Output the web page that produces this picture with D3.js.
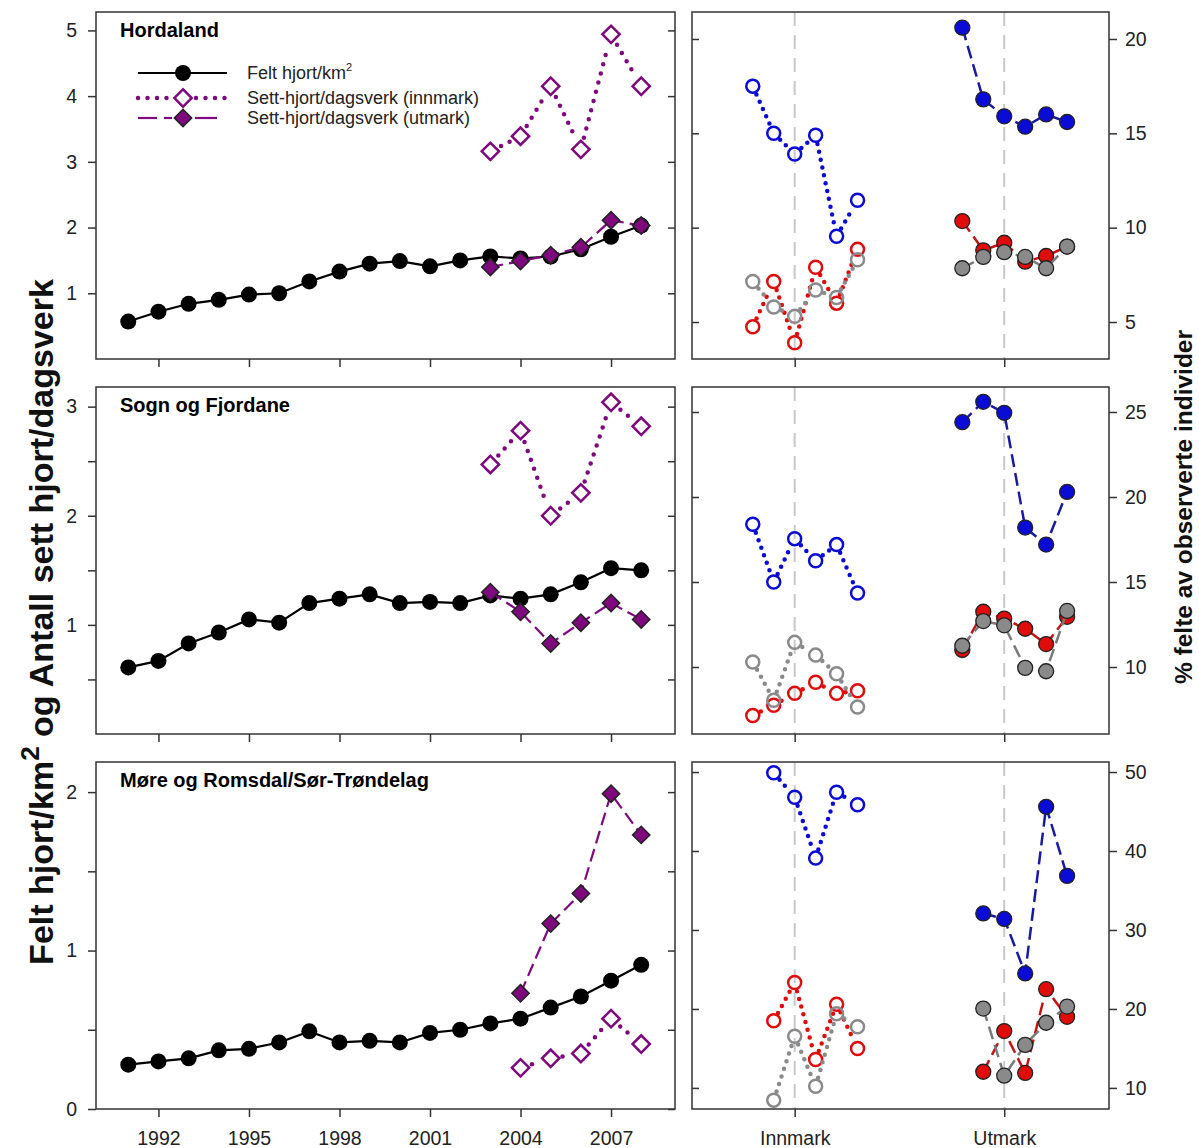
<!DOCTYPE html>
<html>
<head>
<meta charset="utf-8">
<script src="https://cdn.jsdelivr.net/npm/d3@7/dist/d3.min.js"></script>
<style>
body { margin: 0; background: #fff; }
text { font-family: "Liberation Sans", Arial, sans-serif; }
</style>
</head>
<body>
<div id="chart"></div>
<script>
// ---- data ----
var years = [1991, 1992, 1993, 1994, 1995, 1996, 1997, 1998, 1999, 2000, 2001, 2002, 2003, 2004, 2005, 2006, 2007, 2008];
var obsYears = [2003, 2004, 2005, 2006, 2007, 2008];
var regions = ["Hordaland", "Sogn og Fjordane", "Møre og Romsdal/Sør-Trøndelag"];
var areas = ["Innmark", "Utmark"];

// felt hjort per km2 (1991-2008)
var feltHordaland = [0.57, 0.72, 0.84, 0.90, 0.98, 1.00, 1.18, 1.33, 1.45, 1.49, 1.41, 1.50, 1.56, 1.53, 1.56, 1.67, 1.86, 2.03];
var feltSogn = [0.61, 0.67, 0.83, 0.93, 1.05, 1.02, 1.20, 1.24, 1.28, 1.20, 1.21, 1.20, 1.27, 1.24, 1.28, 1.39, 1.52, 1.50];
var feltMore = [0.28, 0.30, 0.32, 0.37, 0.38, 0.42, 0.49, 0.42, 0.43, 0.42, 0.48, 0.50, 0.54, 0.57, 0.64, 0.71, 0.81, 0.91];

// sett hjort per dagsverk (2003-2008)
var innHordaland = [3.16, 3.39, 4.15, 3.19, 4.94, 4.15];
var utHordaland = [1.40, 1.49, 1.58, 1.70, 2.11, 2.03];
var innSogn = [2.47, 2.78, 2.00, 2.21, 3.04, 2.82];
var utSogn = [1.30, 1.12, 0.83, 1.02, 1.20, 1.05];
var innMore = [null, 0.26, 0.32, 0.35, 0.57, 0.41];
var utMore = [null, 0.73, 1.17, 1.36, 1.99, 1.73];

// % felte av observerte individer (2003-2008), blue / red / grey
var innBlueHord = [17.5, 15.0, 13.9, 14.9, 9.55, 11.45];
var innRedHord = [4.75, 7.15, 3.9, 7.9, 6.0, 8.85];
var innGreyHord = [7.15, 5.8, 5.3, 6.7, 6.3, 8.3];
var utBlueHord = [20.6, 16.8, 15.9, 15.35, 16.0, 15.6];
var utRedHord = [10.35, 8.8, 9.2, 8.2, 8.5, 9.0];
var utGreyHord = [7.85, 8.45, 8.7, 8.45, 7.85, 9.0];

var innBlueSogn = [18.4, 15.0, 17.55, 16.25, 17.2, 14.35];
var innRedSogn = [7.15, 7.75, 8.45, 9.1, 8.45, 8.6];
var innGreySogn = [10.3, 8.05, 11.45, 10.7, 9.6, 7.65];
var utBlueSogn = [24.4, 25.6, 24.95, 18.2, 17.2, 20.3];
var utRedSogn = [11.0, 13.25, 12.85, 12.25, 11.35, 12.95];
var utGreySogn = [11.25, 12.7, 12.45, 9.95, 9.75, 13.3];

var innBlueMore = [null, 49.9, 46.8, 39.1, 47.45, 45.85];
var innRedMore = [null, 18.5, 23.35, 13.6, 20.6, 15.0];
var innGreyMore = [null, 8.45, 16.55, 10.2, 19.4, 17.75];
var utBlueMore = [null, 32.1, 31.4, 24.5, 45.6, 36.85];
var utRedMore = [null, 12.05, 17.2, 11.9, 22.5, 19.0];
var utGreyMore = [null, 20.05, 11.55, 15.45, 18.25, 20.3];

// axis ticks
var yearTicks = [1992, 1995, 1998, 2001, 2004, 2007];
var leftTicks = [[1, 2, 3, 4, 5], [0.5, 1, 1.5, 2, 2.5, 3], [0, 0.5, 1, 1.5, 2]];
var rightTicks = [[5, 10, 15, 20], [10, 15, 20, 25], [10, 20, 30, 40, 50]];

// ---- layout ----
var fullwidth = 1199;
var fullheight = 1148;
var panelTop = [12, 387, 762];
var panelH = 347;
var leftX = [96, 675];
var rightX = [692, 1109];
var leftDomains = [[0, 5.28], [0, 3.18], [0, 2.19]];
var rightDomains = [[3.04, 21.43], [6.06, 26.47], [7.33, 51.27]];

var purple = "#7d097d";
var cols = {blue: "#0b0bd6", red: "#e00b0b", grey: "#8a8a8a"};
var lineCols = {blue: "#1a1aa0", red: "#c01414", grey: "#7a7a7a"};

var svg = d3.select("#chart").append("svg")
    .attr("width", fullwidth)
    .attr("height", fullheight);

var xYear = d3.scaleLinear().domain([1989.93, 2009.12]).range(leftX);
var xArea = d3.scaleLinear().domain([0.51, 2.5]).range(rightX);

function xObs(area, year) {
    return xArea(area + (year - 2005) * 0.1);
}

// segments that stop short of the markers (like R type = "b")
function gapSegs(pts, gap) {
    var segs = [];
    for (var i = 0; i < pts.length - 1; i++) {
        var a = pts[i], b = pts[i + 1];
        var dx = b[0] - a[0], dy = b[1] - a[1];
        var len = Math.sqrt(dx * dx + dy * dy);
        if (len <= 2 * gap + 2) continue;
        var ux = dx / len, uy = dy / len;
        segs.push([[a[0] + ux * gap, a[1] + uy * gap], [b[0] - ux * gap, b[1] - uy * gap]]);
    }
    return segs;
}

function toPts(xs, vals, xf, yScale) {
    var pts = [];
    vals.forEach(function(v, i) {
        if (v !== null) pts.push([xf(xs[i]), yScale(v)]);
    });
    return pts;
}

var diamond = d3.symbol().type(d3.symbolSquare).size(150);

function styleAxis(g) {
    g.select(".domain").remove();
    g.selectAll("line").attr("stroke", "#333").attr("stroke-width", 1.5);
    g.selectAll("text").attr("fill", "#222").style("font-size", "19.5px");
}

function drawLeft(p, felt, inn, ut) {
    var top = panelTop[p], bottom = top + panelH;
    var y = d3.scaleLinear().domain(leftDomains[p]).range([bottom, top]);
    var g = svg.append("g");

    // axes
    g.append("g")
        .attr("transform", "translate(" + leftX[0] + ",0)")
        .call(d3.axisLeft(y).tickValues(leftTicks[p]).tickSize(8).tickPadding(11)
            .tickFormat(function(d) { return d % 1 === 0 ? d : ""; }))
        .call(styleAxis);
    g.append("g")
        .attr("transform", "translate(" + leftX[1] + ",0)")
        .call(d3.axisLeft(y).tickValues(leftTicks[p]).tickSize(7).tickFormat(""))
        .call(styleAxis);
    g.append("g")
        .attr("transform", "translate(0," + bottom + ")")
        .call(d3.axisBottom(xYear).tickValues(yearTicks).tickSize(8).tickPadding(14)
            .tickFormat(p === 2 ? d3.format("d") : ""))
        .call(styleAxis);

    g.append("rect")
        .attr("x", leftX[0]).attr("y", top)
        .attr("width", leftX[1] - leftX[0]).attr("height", panelH)
        .attr("fill", "none").attr("stroke", "#333").attr("stroke-width", 1.5);

    g.append("text")
        .attr("x", 120).attr("y", top + 25)
        .attr("font-weight", "bold").style("font-size", "20px")
        .text(regions[p]);

    // felt hjort (black)
    var feltPts = toPts(years, felt, xYear, y);
    g.append("path")
        .attr("d", d3.line()(feltPts))
        .attr("fill", "none").attr("stroke", "#000").attr("stroke-width", 2.2);
    g.selectAll("circle.felt").data(feltPts).enter().append("circle")
        .attr("class", "felt")
        .attr("cx", function(d) { return d[0]; })
        .attr("cy", function(d) { return d[1]; })
        .attr("r", 8).attr("fill", "#000");

    // utmark (filled diamonds, dashed)
    var utPts = toPts(obsYears, ut, xYear, y);
    g.append("path")
        .attr("d", d3.line()(utPts))
        .attr("fill", "none").attr("stroke", purple).attr("stroke-width", 2.2)
        .attr("stroke-dasharray", "13,6");
    g.selectAll("path.ut").data(utPts).enter().append("path")
        .attr("class", "ut")
        .attr("d", diamond)
        .attr("transform", function(d) { return "translate(" + d[0] + "," + d[1] + ") rotate(45)"; })
        .attr("fill", purple).attr("stroke", "#222").attr("stroke-width", 1.5);

    // innmark (open diamonds, dotted)
    var innPts = toPts(obsYears, inn, xYear, y);
    g.selectAll("line.inn").data(gapSegs(innPts, 12)).enter().append("line")
        .attr("class", "inn")
        .attr("x1", function(d) { return d[0][0]; }).attr("y1", function(d) { return d[0][1]; })
        .attr("x2", function(d) { return d[1][0]; }).attr("y2", function(d) { return d[1][1]; })
        .attr("stroke", purple).attr("stroke-width", 4.5)
        .attr("stroke-linecap", "round").attr("stroke-dasharray", "0,9.5");
    g.selectAll("path.inn").data(innPts).enter().append("path")
        .attr("class", "inn")
        .attr("d", diamond)
        .attr("transform", function(d) { return "translate(" + d[0] + "," + d[1] + ") rotate(45)"; })
        .attr("fill", "#fff").attr("stroke", purple).attr("stroke-width", 2.5);
}

function drawRight(p, series) {
    var top = panelTop[p], bottom = top + panelH;
    var y = d3.scaleLinear().domain(rightDomains[p]).range([bottom, top]);
    var g = svg.append("g");

    // dashed reference lines
    g.selectAll("line.ref").data([1, 2]).enter().append("line")
        .attr("class", "ref")
        .attr("x1", function(d) { return xArea(d); }).attr("x2", function(d) { return xArea(d); })
        .attr("y1", top).attr("y2", bottom)
        .attr("stroke", "#c8c8c8").attr("stroke-width", 2)
        .attr("stroke-dasharray", "14,9");

    g.append("g")
        .attr("transform", "translate(" + rightX[1] + ",0)")
        .call(d3.axisRight(y).tickValues(rightTicks[p]).tickSize(8).tickPadding(8))
        .call(styleAxis);
    g.append("g")
        .attr("transform", "translate(" + rightX[0] + ",0)")
        .call(d3.axisRight(y).tickValues(rightTicks[p]).tickSize(7).tickFormat(""))
        .call(styleAxis);
    g.append("g")
        .attr("transform", "translate(0," + bottom + ")")
        .call(d3.axisBottom(xArea).tickValues([1, 2]).tickSize(8).tickPadding(14)
            .tickFormat(function(d) { return p === 2 ? areas[d - 1] : ""; }))
        .call(styleAxis);

    g.append("rect")
        .attr("x", rightX[0]).attr("y", top)
        .attr("width", rightX[1] - rightX[0]).attr("height", panelH)
        .attr("fill", "none").attr("stroke", "#333").attr("stroke-width", 1.5);

    ["blue", "red", "grey"].forEach(function(c) {
        // innmark: open circles, dotted
        var innPts = toPts(obsYears, series["inn_" + c], function(yr) { return xObs(1, yr); }, y);
        g.selectAll("line.inn" + c).data(gapSegs(innPts, 9)).enter().append("line")
            .attr("class", "inn" + c)
            .attr("x1", function(d) { return d[0][0]; }).attr("y1", function(d) { return d[0][1]; })
            .attr("x2", function(d) { return d[1][0]; }).attr("y2", function(d) { return d[1][1]; })
            .attr("stroke", cols[c]).attr("stroke-width", 4.5)
            .attr("stroke-linecap", "round").attr("stroke-dasharray", "0,8");
        g.selectAll("circle.inn" + c).data(innPts).enter().append("circle")
            .attr("class", "inn" + c)
            .attr("cx", function(d) { return d[0]; })
            .attr("cy", function(d) { return d[1]; })
            .attr("r", 6.5).attr("fill", "none")
            .attr("stroke", cols[c]).attr("stroke-width", 2.5);

        // utmark: filled circles, dashed
        var utPts = toPts(obsYears, series["ut_" + c], function(yr) { return xObs(2, yr); }, y);
        g.append("path")
            .attr("d", d3.line()(utPts))
            .attr("fill", "none").attr("stroke", lineCols[c]).attr("stroke-width", 2.5)
            .attr("stroke-dasharray", "13,6");
        g.selectAll("circle.ut" + c).data(utPts).enter().append("circle")
            .attr("class", "ut" + c)
            .attr("cx", function(d) { return d[0]; })
            .attr("cy", function(d) { return d[1]; })
            .attr("r", 7.5).attr("fill", cols[c])
            .attr("stroke", "#222").attr("stroke-width", 1.3);
    });
}

drawLeft(0, feltHordaland, innHordaland, utHordaland);
drawLeft(1, feltSogn, innSogn, utSogn);
drawLeft(2, feltMore, innMore, utMore);

drawRight(0, {inn_blue: innBlueHord, inn_red: innRedHord, inn_grey: innGreyHord,
              ut_blue: utBlueHord, ut_red: utRedHord, ut_grey: utGreyHord});
drawRight(1, {inn_blue: innBlueSogn, inn_red: innRedSogn, inn_grey: innGreySogn,
              ut_blue: utBlueSogn, ut_red: utRedSogn, ut_grey: utGreySogn});
drawRight(2, {inn_blue: innBlueMore, inn_red: innRedMore, inn_grey: innGreyMore,
              ut_blue: utBlueMore, ut_red: utRedMore, ut_grey: utGreyMore});

// legend (Hordaland panel)
var leg = svg.append("g");
var legY = [73, 98, 118];
leg.append("line").attr("x1", 138).attr("x2", 227).attr("y1", legY[0]).attr("y2", legY[0])
    .attr("stroke", "#000").attr("stroke-width", 2.2);
leg.append("circle").attr("cx", 183).attr("cy", legY[0]).attr("r", 8).attr("fill", "#000");

[[138, 170], [196, 227]].forEach(function(s) {
    leg.append("line").attr("x1", s[0]).attr("x2", s[1]).attr("y1", legY[1]).attr("y2", legY[1])
        .attr("stroke", purple).attr("stroke-width", 4.5)
        .attr("stroke-linecap", "round").attr("stroke-dasharray", "0,9.5");
});
leg.append("path").attr("d", diamond)
    .attr("transform", "translate(183," + legY[1] + ") rotate(45)")
    .attr("fill", "#fff").attr("stroke", purple).attr("stroke-width", 2.5);

[[138, 157], [164, 172], [195, 217]].forEach(function(s) {
    leg.append("line").attr("x1", s[0]).attr("x2", s[1]).attr("y1", legY[2]).attr("y2", legY[2])
        .attr("stroke", purple).attr("stroke-width", 2.2);
});
leg.append("path").attr("d", diamond)
    .attr("transform", "translate(183," + legY[2] + ") rotate(45)")
    .attr("fill", purple).attr("stroke", "#222").attr("stroke-width", 1.5);

var legText = leg.append("text").attr("x", 247).attr("y", legY[0] + 6)
    .attr("fill", "#222").style("font-size", "18px");
legText.append("tspan").text("Felt hjort/km");
legText.append("tspan").attr("dy", -8).style("font-size", "11px").text("2");
leg.append("text").attr("x", 247).attr("y", legY[1] + 6)
    .attr("fill", "#222").style("font-size", "18px").text("Sett-hjort/dagsverk (innmark)");
leg.append("text").attr("x", 247).attr("y", legY[2] + 6)
    .attr("fill", "#222").style("font-size", "18px").text("Sett-hjort/dagsverk (utmark)");

// axis titles
var yTitle = svg.append("text")
    .attr("transform", "translate(53,622) rotate(-90)")
    .attr("text-anchor", "middle")
    .attr("font-weight", "bold").style("font-size", "34px")
    .attr("fill", "#111");
yTitle.append("tspan").text("Felt hjort/km");
yTitle.append("tspan").attr("dy", -14).style("font-size", "26px").text("2");
yTitle.append("tspan").attr("dy", 14).text(" og Antall sett hjort/dagsverk");

svg.append("text")
    .attr("transform", "translate(1192,507) rotate(-90)")
    .attr("text-anchor", "middle")
    .attr("font-weight", "bold").style("font-size", "24.5px")
    .attr("fill", "#111")
    .text("% felte av observerte individer");
</script>
</body>
</html>
